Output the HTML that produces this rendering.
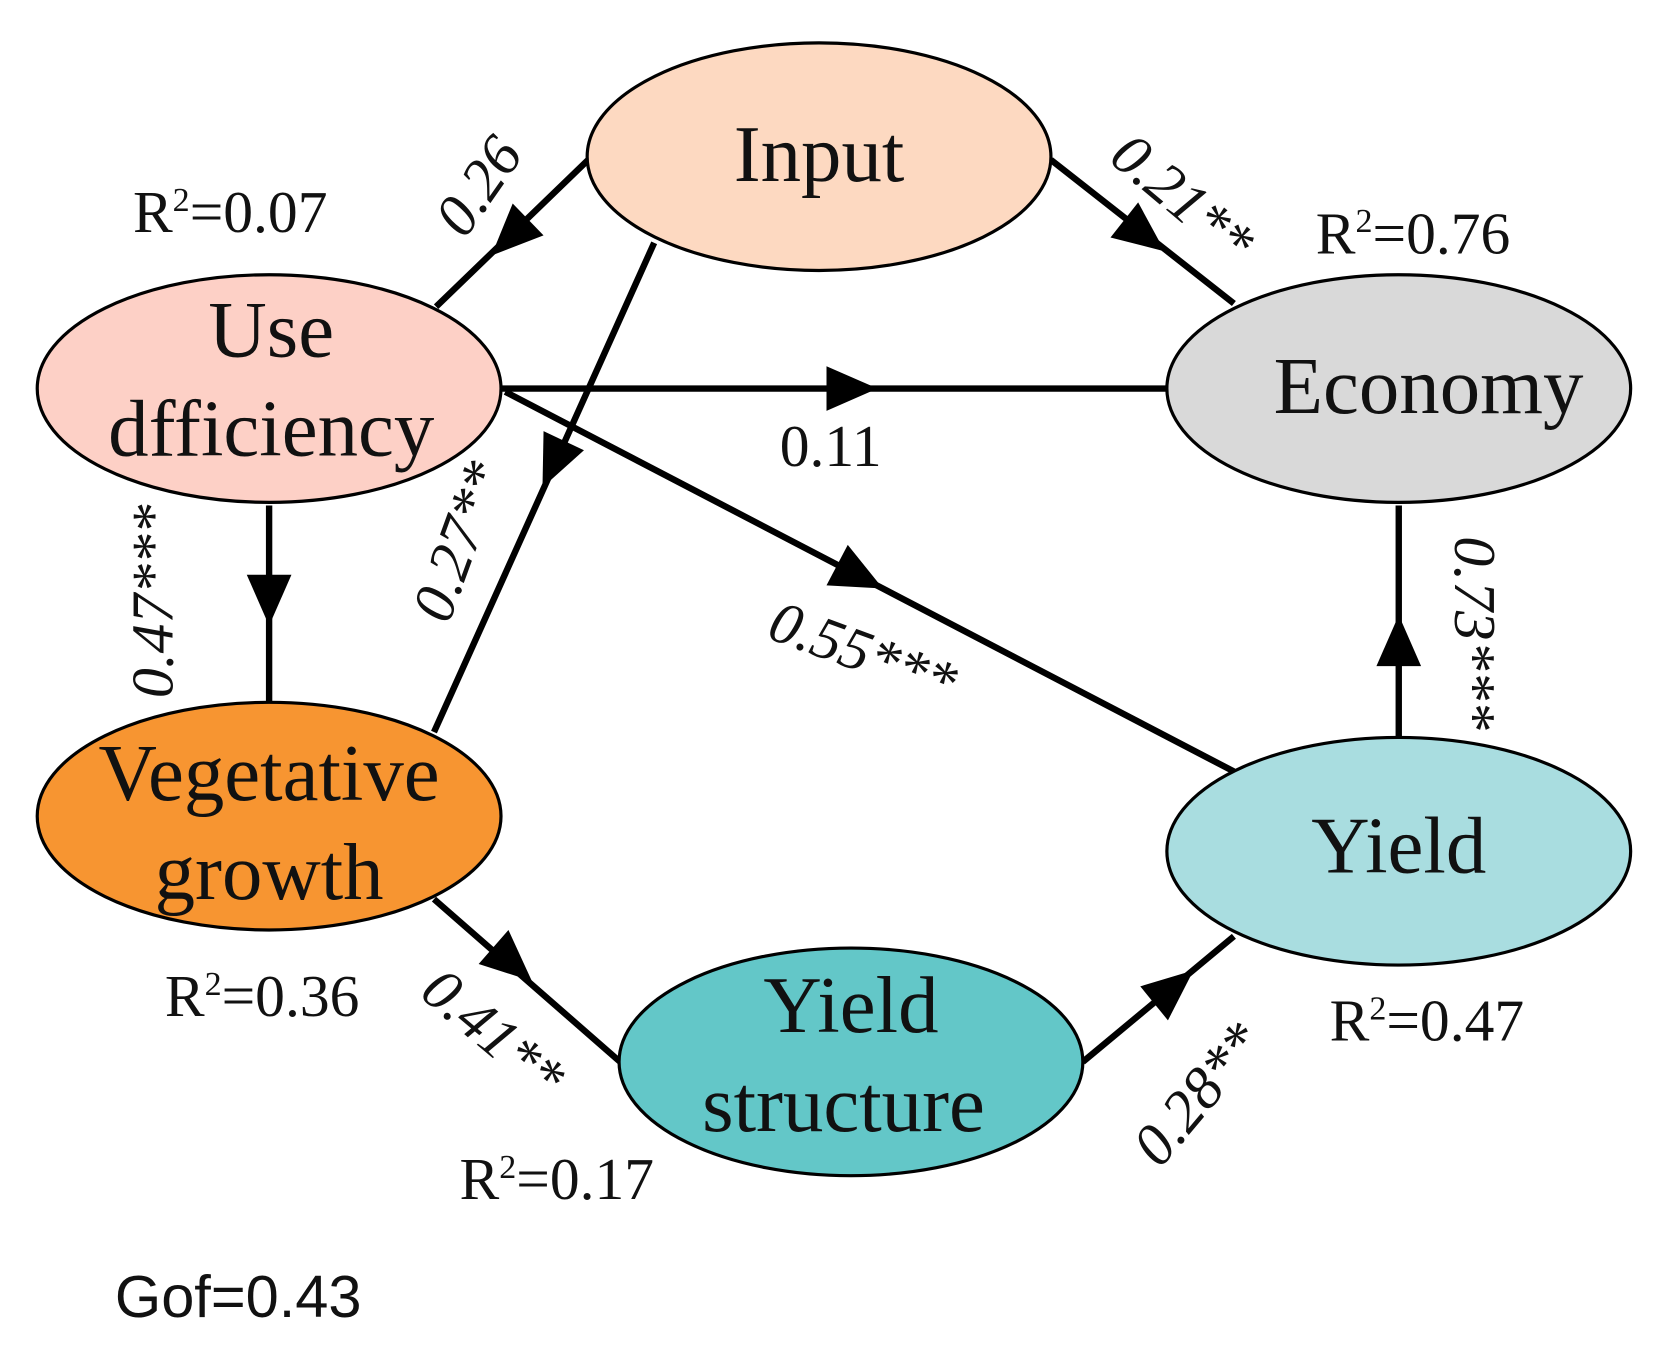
<!DOCTYPE html>
<html><head><meta charset="utf-8"><style>
html,body{margin:0;padding:0;background:#fff;}
svg{display:block;}
text{font-family:"Liberation Serif",serif;fill:#111;}
.n{font-size:76px;text-anchor:middle;}
.l{font-size:56px;}
.e{font-size:56px;font-style:italic;text-anchor:middle;}
</style></head><body>
<svg width="1670" height="1360" viewBox="0 0 1570 1278" xmlns="http://www.w3.org/2000/svg">
<g stroke="#000" stroke-width="6" fill="none">
<line x1="553" y1="150" x2="410" y2="288"/>
<line x1="988" y1="150" x2="1160" y2="285"/>
<line x1="615" y1="228" x2="408" y2="688"/>
<line x1="470" y1="365" x2="1097" y2="365"/>
<line x1="475" y1="368" x2="1160" y2="725"/>
<line x1="253" y1="475" x2="253" y2="660"/>
<line x1="408" y1="845" x2="583" y2="998"/>
<line x1="1018" y1="998" x2="1160" y2="880"/>
<line x1="1315" y1="693" x2="1315" y2="475"/>
</g>
<g fill="#000">
<polygon points="462,240 511,221 482,191"/>
<polygon points="1095,236 1044,223 1070,190"/>
<polygon points="510,458 549,423 511,405"/>
<polygon points="825,365 777,344 777,386"/>
<polygon points="830,553 777,550 797,512"/>
<polygon points="253,588 232,540 274,540"/>
<polygon points="500,922 450,906 478,874"/>
<polygon points="1122,912 1098,959 1072,927"/>
<polygon points="1315,578 1294,626 1336,626"/>
</g>
<g stroke="#000" stroke-width="3">
<ellipse cx="770" cy="147" rx="218" ry="107" fill="#fdd9c1"/>
<ellipse cx="253" cy="365" rx="218" ry="107" fill="#fdd0c6"/>
<ellipse cx="1315" cy="365" rx="218" ry="107" fill="#d9d9d9"/>
<ellipse cx="253" cy="767" rx="218" ry="107" fill="#f79531"/>
<ellipse cx="1315" cy="800" rx="218" ry="107" fill="#a9dde0"/>
<ellipse cx="800" cy="998" rx="218" ry="107" fill="#63c7c8"/>
</g>
<text class="n" x="770" y="170">Input</text>
<text class="n" x="255" y="335">Use</text>
<text class="n" x="255" y="428">dfficiency</text>
<text class="n" x="1343" y="388">Economy</text>
<text class="n" x="253" y="752">Vegetative</text>
<text class="n" x="253" y="845">growth</text>
<text class="n" x="1315" y="820">Yield</text>
<text class="n" x="800" y="970">Yield</text>
<text class="n" x="793" y="1063">structure</text>
<text class="l" x="125" y="218">R<tspan font-size="32" dy="-20">2</tspan><tspan dy="20">=0.07</tspan></text>
<text class="l" x="1237" y="238">R<tspan font-size="32" dy="-20">2</tspan><tspan dy="20">=0.76</tspan></text>
<text class="l" x="155" y="955">R<tspan font-size="32" dy="-20">2</tspan><tspan dy="20">=0.36</tspan></text>
<text class="l" x="432" y="1127">R<tspan font-size="32" dy="-20">2</tspan><tspan dy="20">=0.17</tspan></text>
<text class="l" x="1250" y="978">R<tspan font-size="32" dy="-20">2</tspan><tspan dy="20">=0.47</tspan></text>
<text class="l" x="733" y="438">0.11</text>
<text class="e" transform="translate(465,185) rotate(-55)">0.26</text>
<text class="e" transform="translate(1100,200) rotate(40)">0.21**</text>
<text class="e" transform="translate(448,515) rotate(-70)">0.27**</text>
<text class="e" transform="translate(162,565) rotate(-90)">0.47***</text>
<text class="e" transform="translate(805,630) rotate(20)">0.55***</text>
<text class="e" transform="translate(1368,595) rotate(90)">0.73***</text>
<text class="e" transform="translate(452,985) rotate(40)">0.41**</text>
<text class="e" transform="translate(1140,1040) rotate(-50)">0.28**</text>
<text x="108" y="1238" style="font-family:'Liberation Sans',sans-serif;font-size:56px;">Gof=0.43</text>
</svg>
</body></html>
